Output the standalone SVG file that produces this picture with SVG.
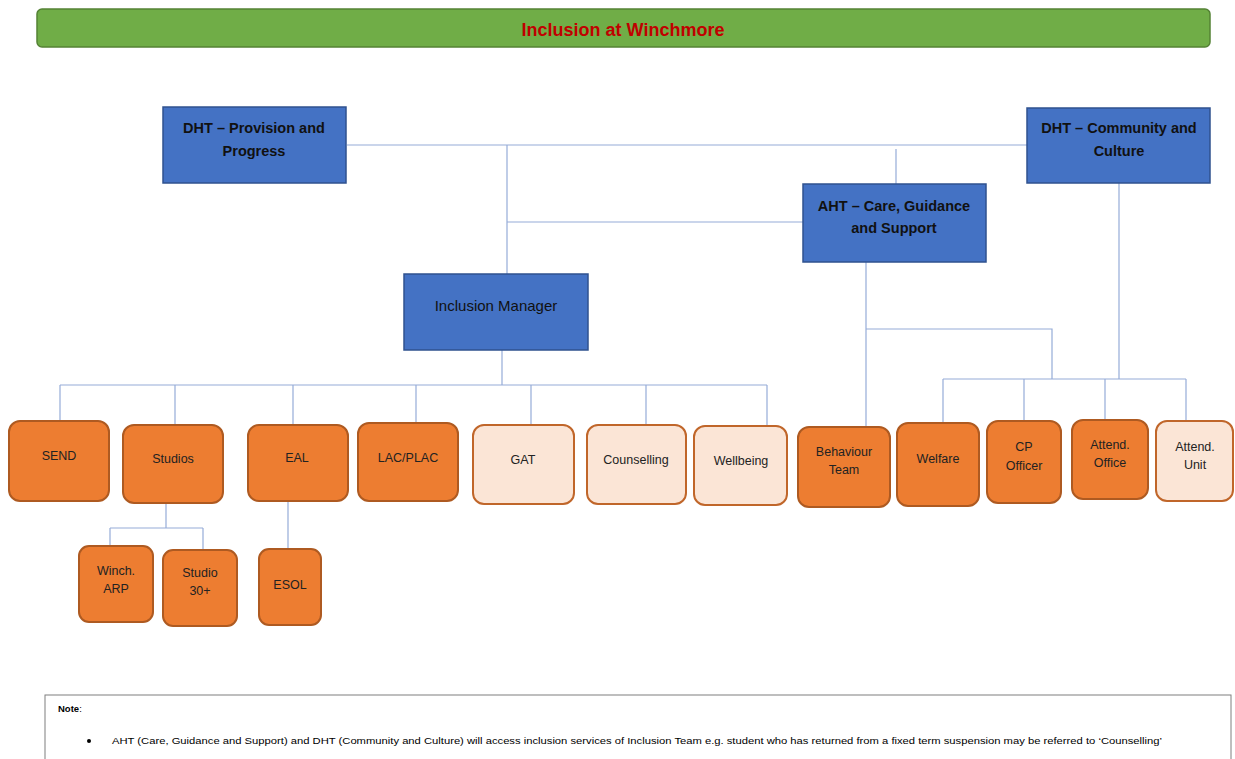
<svg xmlns="http://www.w3.org/2000/svg" width="1235" height="759" viewBox="0 0 1235 759">
<style>
.blue{fill:#4472c4;stroke:#2f528f;stroke-width:1.5}
.or{fill:#ed7d31;stroke:#ae5a21;stroke-width:2}
.lt{fill:#fbe5d6;stroke:#c0662a;stroke-width:2}
.bt{font-family:"Liberation Sans",Arial,sans-serif;font-weight:bold;font-size:14.5px;fill:#111;text-anchor:middle}
.nt{font-family:"Liberation Sans",Arial,sans-serif;font-size:12.5px;fill:#222;text-anchor:middle}
.con line,.con polyline{stroke:#95acd8;stroke-width:1.2;fill:none}
</style>
<rect width="1235" height="759" fill="#fff"/>
<g id="title">
<rect x="37" y="9" width="1173" height="38" rx="5" fill="#70ad47" stroke="#548235" stroke-width="1.5"/>
<text x="623" y="36" font-family="Liberation Sans,Arial,sans-serif" font-weight="bold" font-size="18" fill="#c00000" text-anchor="middle">Inclusion at Winchmore</text>
</g>
<g class="con">
<line x1="347" y1="145" x2="1027" y2="145"/>
<line x1="507" y1="145" x2="507" y2="274"/>
<line x1="507" y1="222" x2="803" y2="222"/>
<line x1="896" y1="149" x2="896" y2="184"/>
<polyline points="866,262 866,428"/>
<polyline points="866,329 1052,329 1052,379"/>
<line x1="1119" y1="183" x2="1119" y2="379"/>
<line x1="943" y1="379" x2="1186" y2="379"/>
<line x1="943" y1="379" x2="943" y2="423"/>
<line x1="1024" y1="379" x2="1024" y2="421"/>
<line x1="1105" y1="379" x2="1105" y2="420"/>
<line x1="1186" y1="379" x2="1186" y2="421"/>
<line x1="502" y1="350" x2="502" y2="385"/>
<line x1="60" y1="385" x2="767" y2="385"/>
<line x1="60" y1="385" x2="60" y2="421"/>
<line x1="175" y1="385" x2="175" y2="425"/>
<line x1="293" y1="385" x2="293" y2="425"/>
<line x1="416" y1="385" x2="416" y2="423"/>
<line x1="531" y1="385" x2="531" y2="425"/>
<line x1="646" y1="385" x2="646" y2="425"/>
<line x1="767" y1="385" x2="767" y2="426"/>
<line x1="166" y1="503" x2="166" y2="528"/>
<line x1="110" y1="528" x2="203" y2="528"/>
<line x1="110" y1="528" x2="110" y2="546"/>
<line x1="203" y1="528" x2="203" y2="550"/>
<line x1="288" y1="501" x2="288" y2="549"/>
</g>
<g id="dht-pp"><rect class="blue" x="163" y="107" width="183" height="76"/><text class="bt" x="254" y="133">DHT – Provision and</text><text class="bt" x="254" y="156">Progress</text></g>
<g id="dht-cc"><rect class="blue" x="1027" y="108" width="183" height="75"/><text class="bt" x="1119" y="133">DHT – Community and</text><text class="bt" x="1119" y="156">Culture</text></g>
<g id="aht"><rect class="blue" x="803" y="184" width="183" height="78"/><text class="bt" x="894" y="211">AHT – Care, Guidance</text><text class="bt" x="894" y="233">and Support</text></g>
<g id="inclusion-manager"><rect class="blue" x="404" y="274" width="184" height="76"/><text x="496" y="311" font-family="Liberation Sans,Arial,sans-serif" font-size="15" fill="#111" text-anchor="middle">Inclusion Manager</text></g>
<g id="send"><rect class="or" x="9" y="421" width="100" height="80" rx="11"/><text class="nt" x="59" y="460">SEND</text></g>
<g id="studios"><rect class="or" x="123" y="425" width="100" height="78" rx="11"/><text class="nt" x="173" y="463">Studios</text></g>
<g id="eal"><rect class="or" x="248" y="425" width="100" height="76" rx="11"/><text class="nt" x="297" y="462">EAL</text></g>
<g id="lac"><rect class="or" x="358" y="423" width="100" height="78" rx="11"/><text class="nt" x="408" y="462">LAC/PLAC</text></g>
<g id="gat"><rect class="lt" x="473" y="425" width="101" height="79" rx="11"/><text class="nt" x="523" y="464">GAT</text></g>
<g id="counselling"><rect class="lt" x="587" y="425" width="99" height="79" rx="11"/><text class="nt" x="636" y="464">Counselling</text></g>
<g id="wellbeing"><rect class="lt" x="694" y="426" width="93" height="79" rx="11"/><text class="nt" x="741" y="465">Wellbeing</text></g>
<g id="behaviour"><rect class="or" x="798" y="427" width="92" height="80" rx="11"/><text class="nt" x="844" y="456">Behaviour</text><text class="nt" x="844" y="474">Team</text></g>
<g id="welfare"><rect class="or" x="897" y="423" width="82" height="83" rx="11"/><text class="nt" x="938" y="463">Welfare</text></g>
<g id="cp"><rect class="or" x="987" y="421" width="74" height="82" rx="11"/><text class="nt" x="1024" y="451">CP</text><text class="nt" x="1024" y="470">Officer</text></g>
<g id="att-office"><rect class="or" x="1072" y="420" width="76" height="79" rx="11"/><text class="nt" x="1110" y="449">Attend.</text><text class="nt" x="1110" y="467">Office</text></g>
<g id="att-unit"><rect class="lt" x="1156" y="421" width="77" height="80" rx="11"/><text class="nt" x="1195" y="451">Attend.</text><text class="nt" x="1195" y="469">Unit</text></g>
<g id="winch"><rect class="or" x="79" y="546" width="74" height="76" rx="10"/><text class="nt" x="116" y="575">Winch.</text><text class="nt" x="116" y="593">ARP</text></g>
<g id="studio30"><rect class="or" x="163" y="550" width="74" height="76" rx="10"/><text class="nt" x="200" y="577">Studio</text><text class="nt" x="200" y="595">30+</text></g>
<g id="esol"><rect class="or" x="259" y="549" width="62" height="76" rx="10"/><text class="nt" x="290" y="589">ESOL</text></g>
<g id="note">
<rect x="45" y="695" width="1186" height="70" fill="#fff" stroke="#7f7f7f" stroke-width="1"/>
<text x="58" y="712" font-family="Liberation Sans,Arial,sans-serif" font-size="9.5" font-weight="bold" fill="#000">Note<tspan font-weight="normal">:</tspan></text>
<circle cx="89" cy="741" r="2" fill="#000"/>
<text x="112" y="744" font-family="Liberation Sans,Arial,sans-serif" font-size="9.5" fill="#000" textLength="1050" lengthAdjust="spacingAndGlyphs">AHT (Care, Guidance and Support) and DHT (Community and Culture) will access inclusion services of Inclusion Team e.g. student who has returned from a fixed term suspension may be referred to ‘Counselling’</text>
</g>
</svg>
